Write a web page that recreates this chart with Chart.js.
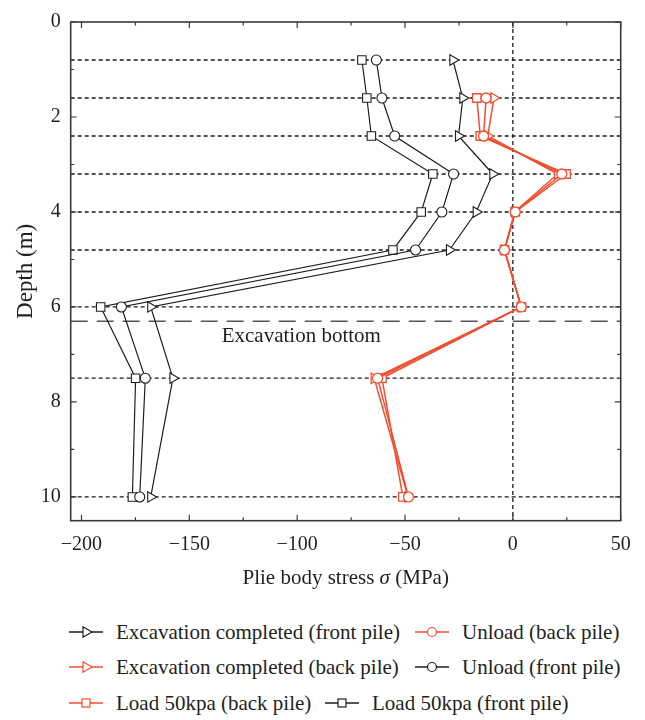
<!DOCTYPE html>
<html><head><meta charset="utf-8">
<script src="https://cdn.jsdelivr.net/npm/chart.js@4/dist/chart.umd.min.js"></script>
<style>
html,body{margin:0;padding:0;background:#fff;}
#wrap{position:relative;width:645px;height:720px;overflow:hidden;}
#c{position:absolute;left:0;top:0;}
#legend{position:absolute;left:0;top:600px;width:645px;height:120px;font-family:"Liberation Serif",serif;font-size:21px;color:#231f20;}
.li{position:absolute;display:flex;align-items:center;white-space:nowrap;height:30px;}
.li span{margin-left:13px;}
</style></head><body>
<div id="wrap"><canvas id="c" width="645" height="600"></canvas><div id="legend"></div></div>
<script>
// ---- data ----
const depthsFront = [0.8, 1.6, 2.4, 3.2, 4.0, 4.8, 6.0, 7.5, 10.0];
const depthsBack  = [1.6, 2.4, 3.2, 4.0, 4.8, 6.0, 7.5, 10.0];
const excFront    = [-27.8, -23.2, -25.2, -9.3, -17.0, -29.4, -167.9, -157.6, -167.9];
const unloadFront = [-63.3, -60.7, -54.8, -27.5, -32.9, -45.1, -181.5, -170.4, -173.0];
const loadFront   = [-70.0, -67.7, -65.6, -37.1, -42.5, -55.6, -191.1, -174.9, -176.4];
const excBack     = [-8.8, -11.6, 20.8, 0.8, -3.9, 3.9, -64.3, -48.6];
const unloadBack  = [-12.4, -13.6, 22.7, 1.1, -3.9, 3.9, -62.7, -48.4];
const loadBack    = [-16.7, -15.1, 24.7, 1.1, -3.9, 3.9, -60.7, -51.0];
const refDepths   = [0.8, 1.6, 2.4, 3.2, 4.0, 4.8, 6.0, 7.5, 10.0];
const excavationBottomDepth = 6.3;
const excavationLabel = 'Excavation bottom';
const xTicks = [-200, -150, -100, -50, 0, 50];
const xMinorTicks = [-175, -125, -75, -25, 25];
const yTicks = [0, 2, 4, 6, 8, 10];
const yMinorTicks = [1, 3, 5, 7, 9];
const X_MIN = -205, X_MAX = 50, Y_MIN = 0, Y_MAX = 10.5;

const BLACK = '#1e1e1e', RED = '#ef4f2f', TEXT = '#231f20';
const FONT = '"Liberation Serif", "Times New Roman", serif';

function pts(xs, ys) { return xs.map((v, i) => ({x: v, y: ys[i]})); }

const series = [
  {label: 'Excavation completed (front pile)', xs: excFront, ys: depthsFront, color: BLACK, shape: 'triangle'},
  {label: 'Unload (back pile)', xs: unloadBack, ys: depthsBack, color: RED, shape: 'circle'},
  {label: 'Excavation completed (back pile)', xs: excBack, ys: depthsBack, color: RED, shape: 'triangle'},
  {label: 'Unload (front pile)', xs: unloadFront, ys: depthsFront, color: BLACK, shape: 'circle'},
  {label: 'Load 50kpa (back pile)', xs: loadBack, ys: depthsBack, color: RED, shape: 'rect'},
  {label: 'Load 50kpa (front pile)', xs: loadFront, ys: depthsFront, color: BLACK, shape: 'rect'}
];

const datasets = series.map(s => ({
  label: s.label,
  data: pts(s.xs, s.ys),
  showLine: true,
  borderColor: s.color,
  borderWidth: s.color === RED ? 1.5 : 1.2,
  pointStyle: s.shape,
  pointRotation: s.shape === 'triangle' ? 90 : 0,
  pointRadius: s.shape === 'circle' ? 5 : 6,
  pointBackgroundColor: '#ffffff',
  pointBorderColor: s.color,
  pointBorderWidth: s.color === RED ? 1.3 : 1.1,
  order: 1
}));

// reference lines (dotted horizontal at measuring depths, zero line, excavation bottom)
refDepths.forEach(d => datasets.push({
  label: 'ref', data: [{x: X_MIN, y: d}, {x: X_MAX, y: d}], showLine: true,
  borderColor: '#1a1a1a', borderWidth: 1.3, borderDash: [4, 3], pointRadius: 0, order: 10
}));
datasets.push({
  label: 'zero', data: [{x: 0, y: Y_MIN}, {x: 0, y: Y_MAX}], showLine: true,
  borderColor: '#1a1a1a', borderWidth: 1.3, borderDash: [4, 3], pointRadius: 0, order: 10
});
datasets.push({
  label: 'excavation', data: [{x: X_MIN, y: excavationBottomDepth}, {x: X_MAX, y: excavationBottomDepth}], showLine: true,
  borderColor: '#555555', borderWidth: 1.5, borderDash: [17, 9], pointRadius: 0, order: 10
});

const fmt = v => String(v).replace('-', '\u2212');

const framePlugin = {
  id: 'frame',
  afterDatasetsDraw(chart) {
    const {ctx, chartArea: a, scales: {x, y}} = chart;
    ctx.save();
    ctx.strokeStyle = '#3a3a3a';
    ctx.lineWidth = 1.2;
    const tx = (v, len) => {
      const p = x.getPixelForValue(v);
      ctx.beginPath();
      ctx.moveTo(p, a.bottom); ctx.lineTo(p, a.bottom - len);
      ctx.moveTo(p, a.top); ctx.lineTo(p, a.top + len);
      ctx.stroke();
    };
    const ty = (v, len) => {
      const p = y.getPixelForValue(v);
      ctx.beginPath();
      ctx.moveTo(a.left, p); ctx.lineTo(a.left + len, p);
      ctx.moveTo(a.right, p); ctx.lineTo(a.right - len, p);
      ctx.stroke();
    };
    xTicks.forEach(v => tx(v, 6));
    xMinorTicks.forEach(v => tx(v, 3.5));
    yTicks.forEach(v => ty(v, 6));
    yMinorTicks.forEach(v => ty(v, 3.5));
    ctx.lineWidth = 1.6;
    ctx.strokeRect(a.left, a.top, a.right - a.left, a.bottom - a.top);

    // excavation bottom label
    ctx.fillStyle = TEXT;
    ctx.font = '21px ' + FONT;
    ctx.textAlign = 'left';
    ctx.textBaseline = 'middle';
    ctx.fillText(excavationLabel, x.getPixelForValue(-135), y.getPixelForValue(6.62));

    // x-axis title with italic sigma
    const parts = [['Plie body stress ', 'normal'], ['\u03C3', 'italic'], [' (MPa)', 'normal']];
    let total = 0;
    parts.forEach(p => { ctx.font = p[1] + ' 21px ' + FONT; total += ctx.measureText(p[0]).width; });
    let cx = (a.left + a.right) / 2 - total / 2;
    parts.forEach(p => {
      ctx.font = p[1] + ' 21px ' + FONT;
      ctx.fillText(p[0], cx, 578);
      cx += ctx.measureText(p[0]).width;
    });
    ctx.restore();
  }
};

new Chart(document.getElementById('c'), {
  type: 'scatter',
  data: {datasets},
  options: {
    responsive: false, animation: false, devicePixelRatio: 1,
    layout: {padding: {left: 0, right: 24.3, top: 12.7, bottom: 0}},
    plugins: {legend: {display: false}, tooltip: {enabled: false}},
    scales: {
      x: {
        type: 'linear', position: 'bottom', min: X_MIN, max: X_MAX,
        afterBuildTicks: s => { s.ticks = xTicks.map(v => ({value: v})); },
        afterFit: s => { s.height = 79.3; },
        grid: {display: false, drawTicks: false}, border: {display: false},
        ticks: {padding: 12, autoSkip: false, maxRotation: 0, color: TEXT,
                font: {family: FONT, size: 20}, callback: v => fmt(v)}
      },
      y: {
        type: 'linear', position: 'left', reverse: true, min: Y_MIN, max: Y_MAX,
        afterBuildTicks: s => { s.ticks = yTicks.map(v => ({value: v})); },
        afterFit: s => { s.width = 70.7; },
        grid: {display: false, drawTicks: false}, border: {display: false},
        ticks: {padding: 10, autoSkip: false, color: TEXT,
                font: {family: FONT, size: 20}, callback: v => fmt(v)},
        title: {display: true, text: 'Depth (m)', color: TEXT,
                font: {family: FONT, size: 23}, padding: {top: 12, bottom: 0}}
      }
    }
  },
  plugins: [framePlugin]
});

// ---- HTML legend ----
function markerSVG(color, shape) {
  let m = '';
  if (shape === 'triangle') m = `<polygon points="23,10 14,4.8 14,15.2" fill="#fff" stroke="${color}" stroke-width="1.2"/>`;
  else if (shape === 'circle') m = `<circle cx="17" cy="10" r="4.5" fill="#fff" stroke="${color}" stroke-width="1.2"/>`;
  else m = `<rect x="13" y="6" width="8" height="8" fill="#fff" stroke="${color}" stroke-width="1.2"/>`;
  return `<svg width="34" height="20" viewBox="0 0 34 20"><line x1="0" y1="10" x2="34" y2="10" stroke="${color}" stroke-width="1.4"/>${m}</svg>`;
}
const legendSlots = [[69, 32], [415, 32], [69, 67], [415, 67], [69, 103], [325, 103]];
const leg = document.getElementById('legend');
series.forEach((s, i) => {
  const d = document.createElement('div');
  d.className = 'li';
  d.style.left = legendSlots[i][0] + 'px';
  d.style.top = (legendSlots[i][1] - 15) + 'px';
  d.innerHTML = markerSVG(s.color, s.shape) + '<span>' + s.label + '</span>';
  leg.appendChild(d);
});
</script>
</body></html>
